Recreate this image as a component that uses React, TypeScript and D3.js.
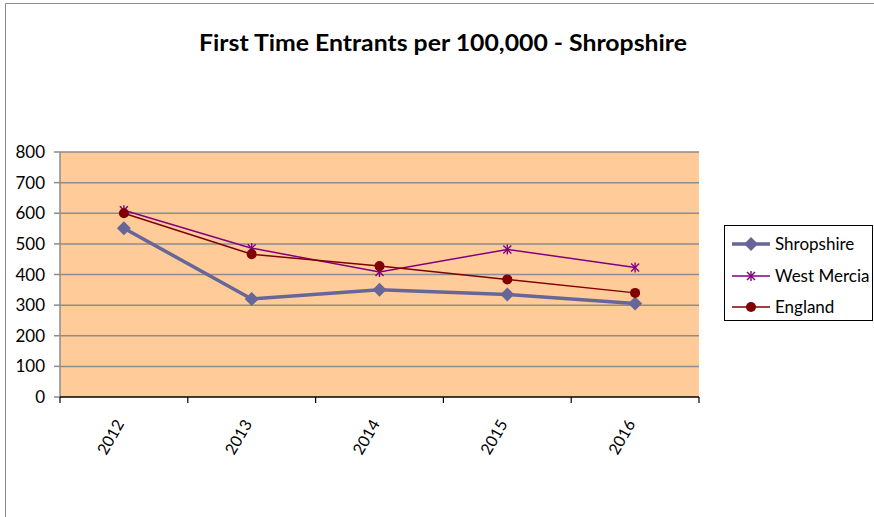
import React from 'react';
import * as d3 from 'd3';

// chart values
const years = ['2012', '2013', '2014', '2015', '2016'];
const shropshire = [551, 320, 350, 335, 305];
const westMercia = [610, 486, 408, 482, 423];
const england = [600, 466, 428, 384, 340];
const yTicks = [0, 100, 200, 300, 400, 500, 600, 700, 800];

const W = 874;
const H = 517;
const plot = { left: 60, right: 699, top: 152, bottom: 397 };
const font = 'Lato, "Open Sans", sans-serif';

const x = d3.scaleBand().domain(years).range([plot.left, plot.right]);
const y = d3.scaleLinear().domain([0, 800]).range([plot.bottom, plot.top]);
const cx = (d: string) => (x(d) || 0) + x.bandwidth() / 2;

const series = [
  { name: 'Shropshire', values: shropshire, color: '#666699', width: 3.5, marker: 'diamond' },
  { name: 'West Mercia', values: westMercia, color: '#800080', width: 1.5, marker: 'star' },
  { name: 'England', values: england, color: '#800000', width: 1.5, marker: 'circle' },
];

function Marker({ kind, px, py, color }: { kind: string; px: number; py: number; color: string }) {
  if (kind === 'diamond') {
    const s = 7;
    return <path d={`M${px},${py - s}L${px + s},${py}L${px},${py + s}L${px - s},${py}Z`} fill={color} />;
  }
  if (kind === 'circle') {
    return <circle cx={px} cy={py} r={5} fill={color} />;
  }
  // asterisk marker
  const s = 4;
  return (
    <g stroke={color} strokeWidth={1.4}>
      <line x1={px - s} y1={py - s} x2={px + s} y2={py + s} />
      <line x1={px - s} y1={py + s} x2={px + s} y2={py - s} />
      <line x1={px} y1={py - s - 1} x2={px} y2={py + s + 1} />
    </g>
  );
}

export default function App() {
  const line = d3.line<number>()
    .x((_, i) => cx(years[i]))
    .y(d => y(d));

  const legendY = [244, 276, 307];

  return (
    <svg width={W} height={H} style={{ position: 'absolute', left: 0, top: 0 }} fontFamily={font}>
      <rect x={0} y={0} width={W} height={H} fill="#fff" />
      {/* outer chart frame */}
      <path d={`M5.5,${H}V3.5H${W}`} fill="none" stroke="#8c8c8c" strokeWidth={1} />

      <text x={443} y={51} textAnchor="middle" fontSize={22} fontWeight="bold" fill="#000"
        textLength={488} lengthAdjust="spacingAndGlyphs">
        First Time Entrants per 100,000 - Shropshire
      </text>

      {/* plot area */}
      <rect x={plot.left} y={plot.top} width={plot.right - plot.left} height={plot.bottom - plot.top} fill="#FFCC99" />
      {yTicks.filter(t => t > 0).map(t => (
        <line key={t} x1={plot.left} x2={plot.right} y1={y(t)} y2={y(t)} stroke="#8c8c8c" strokeWidth={1.5} />
      ))}

      {/* y axis */}
      <line x1={plot.left} x2={plot.left} y1={plot.top} y2={plot.bottom} stroke="#8c8c8c" strokeWidth={1.5} />
      {yTicks.map(t => (
        <g key={t}>
          <line x1={plot.left - 6} x2={plot.left} y1={y(t)} y2={y(t)} stroke="#8c8c8c" strokeWidth={1.5} />
          <text x={45} y={y(t) + 6} textAnchor="end" fontSize={17} fill="#000">{t}</text>
        </g>
      ))}

      {/* x axis */}
      <line x1={plot.left} x2={plot.right} y1={plot.bottom} y2={plot.bottom} stroke="#000" strokeWidth={1.5} />
      {[...years.map(d => x(d) || 0), plot.right].map((tx, i) => (
        <line key={i} x1={tx} x2={tx} y1={plot.bottom} y2={plot.bottom + 6} stroke="#000" strokeWidth={1.2} />
      ))}
      {years.map(d => (
        <text key={d} transform={`translate(${cx(d) - 4},${421}) rotate(-60)`} textAnchor="end"
          dy="0.35em" fontSize={16} fill="#000">{d}</text>
      ))}

      {/* series */}
      {series.map(s => (
        <g key={s.name}>
          <path d={line(s.values) || ''} fill="none" stroke={s.color} strokeWidth={s.width} />
          {s.values.map((v, i) => (
            <Marker key={i} kind={s.marker} px={cx(years[i])} py={y(v)} color={s.color} />
          ))}
        </g>
      ))}

      {/* legend */}
      <rect x={724.5} y={225.5} width={148} height={95} fill="#fff" stroke="#000" strokeWidth={1} />
      {series.map((s, i) => (
        <g key={s.name}>
          <line x1={732} x2={770} y1={legendY[i]} y2={legendY[i]} stroke={s.color} strokeWidth={s.width} />
          <Marker kind={s.marker} px={751} py={legendY[i]} color={s.color} />
          <text x={775} y={legendY[i] + 6} fontSize={17} fill="#000">{s.name}</text>
        </g>
      ))}
    </svg>
  );
}
